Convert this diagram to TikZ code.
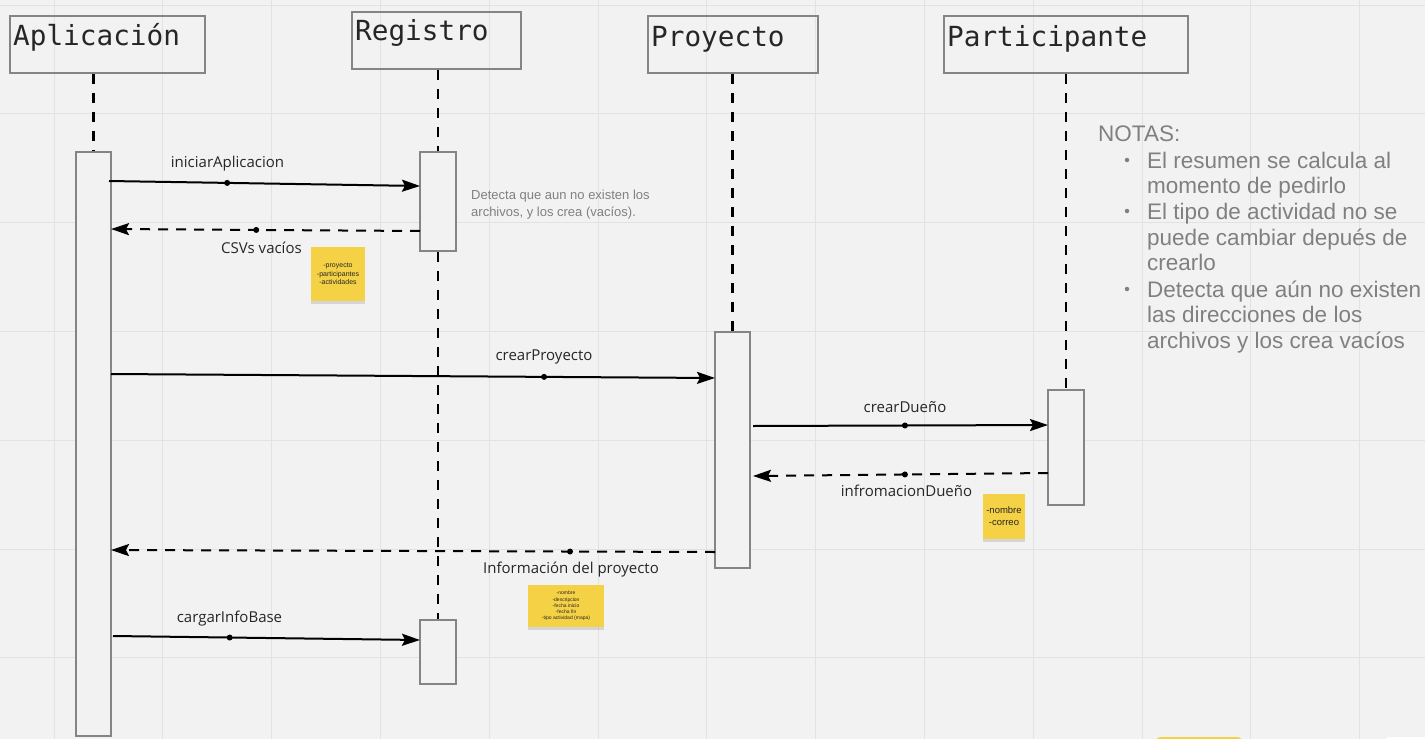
\documentclass[tikz,border=0pt]{standalone}
\usepackage{fontspec}
\setmainfont{Liberation Sans}
\newfontfamily\monof{DejaVu Sans Mono}
\newfontfamily\labf{Open Sans}
\usetikzlibrary{arrows.meta,shadows}
\definecolor{bg}{HTML}{F2F2F2}
\definecolor{gridc}{HTML}{E2E2E2}
\definecolor{boxc}{HTML}{858585}
\definecolor{notec}{HTML}{808080}
\definecolor{sticky}{HTML}{F5D245}
\definecolor{txt}{HTML}{262626}
\begin{document}
\begin{tikzpicture}[x=1pt,y=-1pt,
  head/.style={draw=boxc, line width=2.5pt, rectangle, inner sep=0pt, minimum height=57pt},
  headtxt/.style={font=\monof\fontsize{27.7}{30}\selectfont, text=txt, inner sep=0pt, anchor=base west},
  act/.style={draw=boxc, line width=2.2pt, rectangle, inner sep=0pt, fill=bg},
  life/.style={line width=2.7pt, dash pattern=on 10pt off 9pt},
  msg/.style={line width=2pt, -{Stealth[length=18pt,width=12pt,inset=3pt]}},
  ret/.style={msg, dash pattern=on 10pt off 8pt},
  mdot/.style={circle, fill=black, inner sep=0pt, minimum size=6pt},
  mlabel/.style={font=\labf\fontsize{15}{17}\selectfont, text=txt, inner sep=0pt},
  stickynote/.style={fill=sticky, rectangle, inner sep=0pt, align=center, text=txt,
    drop shadow={shadow xshift=0pt, shadow yshift=-3pt, opacity=0.25}},
  notetxt/.style={font=\fontsize{22.5}{25.8}\selectfont, text=notec, inner sep=0pt, anchor=base west},
  bul/.style={circle, fill=notec, inner sep=0pt, minimum size=4.5pt}
]
% background and grid
\useasboundingbox (0,0) rectangle (1425,739);
\fill[bg] (0,0) rectangle (1425,739);
\clip (0,0) rectangle (1425,739);
\foreach \k in {0,...,12} {
  \draw[gridc, line width=1pt] ({54+108.8*\k},0) -- ({54+108.8*\k},739);
}
\foreach \k in {0,...,6} {
  \draw[gridc, line width=1pt] (0,{5+108.8*\k}) -- (1425,{5+108.8*\k});
}

% partial shapes at bottom right
\fill[sticky, rounded corners=6pt] (1155,737) rectangle (1243,770);
\fill[white, rounded corners=4pt] (1385,737) rectangle (1445,770);

% headers
\node[head, minimum width=195pt] (hA) at (107.5,44.5) {};
\node[headtxt] (tA) at (13,45) {Aplicación};
\node[head, minimum width=169pt] (hR) at (436.5,40.5) {};
\node[headtxt] (tR) at (355,40) {Registro};
\node[head, minimum width=170pt] (hP) at (733,44.5) {};
\node[headtxt] (tP) at (651,46) {Proyecto};
\node[head, minimum width=244pt] (hQ) at (1066,44.5) {};
\node[headtxt] (tQ) at (947,46) {Participante};

% activation boxes
\node[act, minimum width=35pt, minimum height=584pt] (aA) at (93.5,444) {};
\node[act, minimum width=36pt, minimum height=99pt] (aR1) at (438,201.5) {};
\node[act, minimum width=36pt, minimum height=64pt] (aR2) at (438,652) {};
\node[act, minimum width=35pt, minimum height=236pt] (aP) at (732.5,450) {};
\node[act, minimum width=36pt, minimum height=115pt] (aQ) at (1066,447.5) {};

% lifelines
\draw[life] (hA.south -| aA.north) -- (aA.north);
\draw[life] (hR.south -| aR1.north) -- (aR1.north);
\draw[life] (aR1.south) -- (aR2.north);
\draw[life] (hP.south -| aP.north) -- (aP.north);
\draw[life] (hQ.south -| aQ.north) -- (aQ.north);

% message end points
\coordinate (m1s) at (109,181);  \coordinate (m1e) at (420,186);
\coordinate (m2s) at (420,231);  \coordinate (m2e) at (111,229);
\coordinate (m3s) at (111,374);  \coordinate (m3e) at (715,378);
\coordinate (m4s) at (753,426);  \coordinate (m4e) at (1048,425);
\coordinate (m5s) at (1048,473); \coordinate (m5e) at (753,476);
\coordinate (m6s) at (715,552);  \coordinate (m6e) at (111,550);
\coordinate (m7s) at (113,636);  \coordinate (m7e) at (420,640);

% messages
\draw[msg] (m1s) -- node[mdot, pos=0.38] (d1) {} (m1e);
\draw[ret] (m2s) -- node[mdot, pos=0.53] (d2) {} (m2e);
\draw[msg] (m3s) -- node[mdot, pos=0.717] (d3) {} (m3e);
\draw[msg] (m4s) -- node[mdot, pos=0.515] (d4) {} (m4e);
\draw[ret] (m5s) -- node[mdot, pos=0.485] (d5) {} (m5e);
\draw[ret] (m6s) -- node[mdot, pos=0.24] (d6) {} (m6e);
\draw[msg] (m7s) -- node[mdot, pos=0.38] (d7) {} (m7e);

% message labels
\node[mlabel] (l1) at (227.5,164) {iniciarAplicacion};
\node[mlabel] (l2) at (261.5,248) {CSVs vacíos};
\node[mlabel] (l3) at (544,357) {crearProyecto};
\node[mlabel] (l4) at (905,407) {crearDueño};
\node[mlabel] (l5) at (906.5,491) {infromacionDueño};
\node[mlabel] (l6) at (571,570) {Información del proyecto};
\node[mlabel] (l7) at (229.5,619) {cargarInfoBase};

% comment near Registro
\node[font=\fontsize{13}{16.5}\selectfont, text=notec, inner sep=0pt, anchor=base west] (c1a) at (471,199) {Detecta que aun no existen los};
\node[font=\fontsize{13}{16.5}\selectfont, text=notec, inner sep=0pt, anchor=base west] (c1b) at (471,216) {archivos, y los crea (vacíos).};

% sticky notes
\node[stickynote, minimum width=54pt, minimum height=54pt, font=\fontsize{7}{8.6}\selectfont] (s1) at (338,274)
  {-proyecto\\-participantes\\-actividades};
\node[stickynote, minimum width=42pt, minimum height=45pt, font=\fontsize{9.5}{12}\selectfont] (s2) at (1004,516.5)
  {-nombre\\-correo};
\node[stickynote, minimum width=76pt, minimum height=42pt, font=\fontsize{5}{6.2}\selectfont] (s3) at (566,606)
  {-nombre\\-descripcion\\-fecha inicio\\-fecha fin\\-tipo actividad (mapa)};

% notes
\node[notetxt] (n0) at (1098,141) {NOTAS:};
\node[bul] (b1) at (1127,160) {};
\node[bul] (b2) at (1127,211) {};
\node[bul] (b3) at (1127,289) {};
\node[notetxt] (n1) at (1147,168) {El resumen se calcula al};
\node[notetxt] (n2) at (1147,193.5) {momento de pedirlo};
\node[notetxt] (n3) at (1147,219.5) {El tipo de actividad no se};
\node[notetxt] (n4) at (1147,245) {puede cambiar depués de};
\node[notetxt] (n5) at (1147,270.5) {crearlo};
\node[notetxt] (n6) at (1147,297) {Detecta que aún no existen};
\node[notetxt] (n7) at (1147,322.5) {las direcciones de los};
\node[notetxt] (n8) at (1147,348) {archivos y los crea vacíos};
\end{tikzpicture}
\end{document}
